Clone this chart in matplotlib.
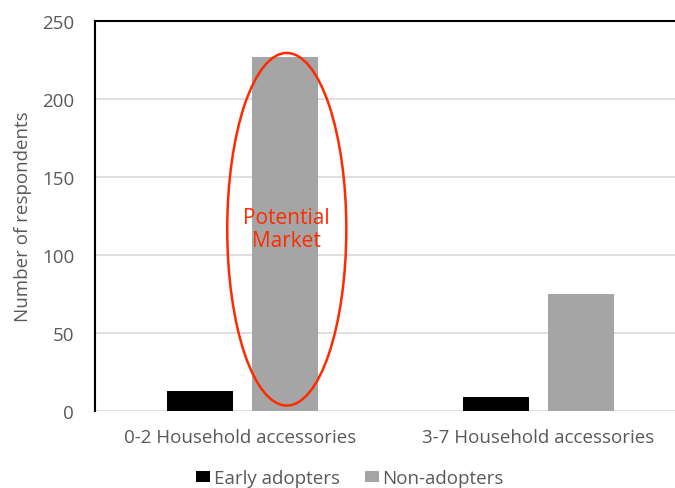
import matplotlib
matplotlib.use("Agg")
import matplotlib.pyplot as plt
from matplotlib.patches import Ellipse, Patch
import matplotlib.transforms as mtransforms
import numpy as np

categories = ["0-2 Household accessories", "3-7 Household accessories"]
series_names = ["Early adopters", "Non-adopters"]
early_adopters = [13, 9]
non_adopters = [227, 75]
y_ticks = [0, 50, 100, 150, 200, 250]
y_label = "Number of respondents"
annotation = "Potential\nMarket"

plt.rcParams['font.family'] = ['Open Sans', 'DejaVu Sans']
txt = '#595959'
fs = 13.5
colors = ['black', '#a5a5a5']

fig = plt.figure(figsize=(6.75, 4.89), dpi=100)
ax = fig.add_axes([95/675, 1-412/489, 591/675, 390/489])

x = np.arange(len(categories))
w = 0.224
off = 0.144
ax.bar(x - off, early_adopters, w, color=colors[0], zorder=3)
ax.bar(x + off, non_adopters, w, color=colors[1], zorder=3)

ax.set_xlim(-0.5, 1.5)
ax.set_ylim(0, 250)
ax.set_yticks(y_ticks)
ax.yaxis.grid(True, color='#d9d9d9', lw=1.2, zorder=0)
ax.set_axisbelow(True)
for s in ['right', 'bottom']:
    ax.spines[s].set_visible(False)
ax.spines['left'].set_color('black')
ax.spines['left'].set_linewidth(1.5)
ax.spines['top'].set_color('black')
ax.spines['top'].set_linewidth(1.5)
ax.tick_params(axis='y', length=0, labelsize=fs, colors=txt, pad=15)
ax.tick_params(axis='x', length=0, labelsize=fs, colors=txt, pad=12)
ax.set_xticks(x)
ax.set_xticklabels(categories)
lbls = ax.get_xticklabels()
lbls[0].set_transform(lbls[0].get_transform() + mtransforms.ScaledTranslation(-3/100, 0, fig.dpi_scale_trans))
ax.set_ylabel(y_label, fontsize=fs, color=txt, labelpad=7)

ell = Ellipse((0 + 0.149, 116.5), 0.403, 226, fill=False, edgecolor='#ff2a00', lw=1.8, zorder=4)
ax.add_patch(ell)
ax.text(0.149, 116.5, annotation, color='#ff2a00', fontsize=15, ha='center', va='center',
        linespacing=1.12, zorder=5)

handles = [Patch(facecolor=colors[0]), Patch(facecolor=colors[1])]
fig.legend(handles, series_names, loc='center', bbox_to_anchor=(350/675, 1-479/489),
           ncol=2, frameon=False, fontsize=fs, labelcolor=txt, handletextpad=0.2,
           columnspacing=1.3, handlelength=0.75, handleheight=0.5)

fig.savefig('out.png', dpi=100)
